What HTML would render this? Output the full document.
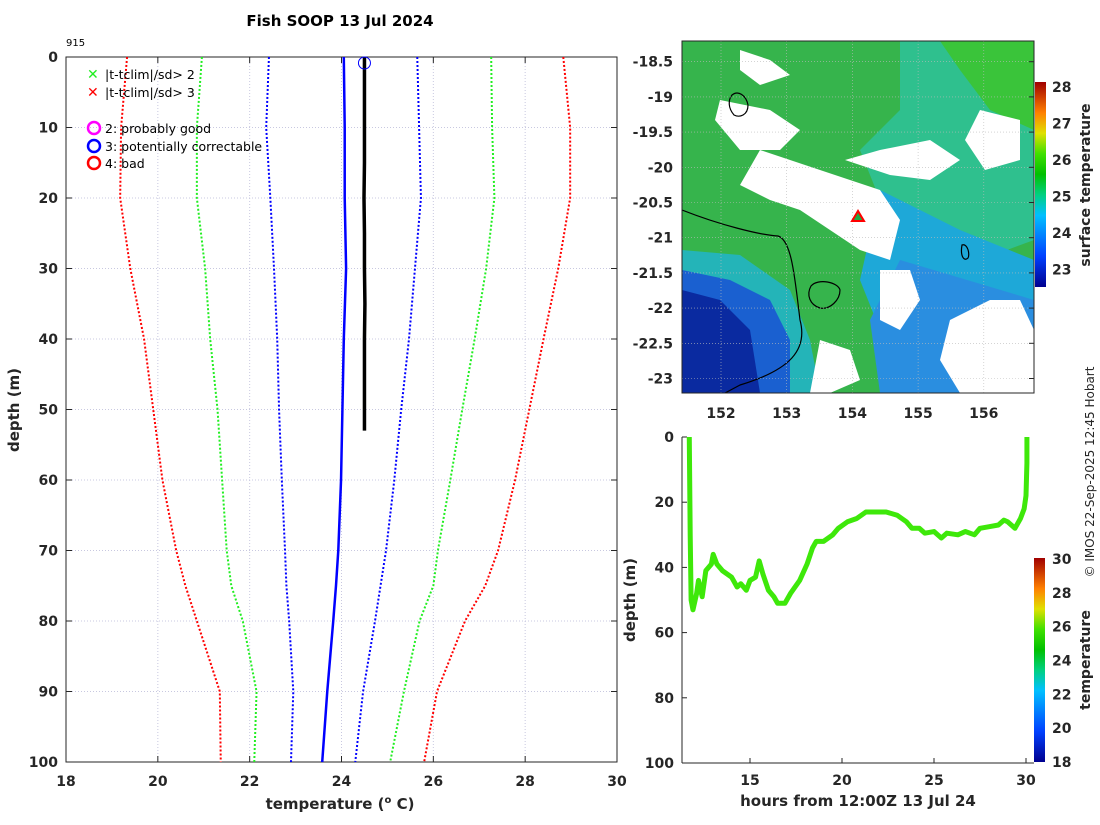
<!DOCTYPE html>
<html><head><meta charset="utf-8"><style>
body{margin:0;background:#fff;}
svg text{font-family:"DejaVu Sans","Liberation Sans",sans-serif;}
.tk{font-size:14px;font-weight:bold;fill:#262626;}
</style></head><body>
<svg id="s" width="1100" height="820" xmlns="http://www.w3.org/2000/svg">
<text x="340" y="26" text-anchor="middle" font-size="15" font-weight="bold" fill="#000">Fish SOOP 13 Jul 2024</text>
<text x="66" y="46" font-size="10" fill="#000">915</text>
<g id="main"></g>
<g id="map"></g>
<g id="track"></g>
<text transform="translate(1094,472) rotate(-90)" text-anchor="middle" font-size="12" fill="#262626">© IMOS 22-Sep-2025 12:45 Hobart</text>
</svg>
<script>
const NS="http://www.w3.org/2000/svg";
function mk(p,t,a,txt){const e=document.createElementNS(NS,t);for(const k in a)e.setAttribute(k,a[k]);if(txt!==undefined)e.textContent=txt;p.appendChild(e);return e;}

// ---- profile data ----
const depths=[0,10,20,30,40,50,60,70,75,80,90,100];
const red3Left=[19.33,19.2,19.18,19.4,19.7,19.9,20.1,20.4,20.6,20.85,21.35,21.37];
const green2Left=[20.96,20.85,20.85,21.03,21.14,21.3,21.4,21.5,21.6,21.85,22.15,22.1];
const blueLeft=[22.42,22.36,22.45,22.53,22.6,22.64,22.7,22.77,22.8,22.86,22.95,22.9];
const climMean=[24.05,24.07,24.07,24.1,24.05,24.02,23.99,23.93,23.88,23.82,23.69,23.58];
const blueRight=[25.65,25.69,25.73,25.6,25.47,25.3,25.15,24.97,24.85,24.73,24.47,24.3];
const green2Right=[27.26,27.28,27.33,27.15,26.9,26.63,26.37,26.1,26.0,25.7,25.36,25.06];
const red3Right=[28.83,28.98,28.98,28.72,28.4,28.09,27.78,27.41,27.13,26.69,26.08,25.8];
const obsDepth=[0,5,10,15,20,25,30,35,40,45,50,53];
const obsTemp=[24.5,24.5,24.5,24.5,24.49,24.5,24.5,24.51,24.5,24.5,24.5,24.5];
const xTicks=[18,20,22,24,26,28,30];
const yTicks=[0,10,20,30,40,50,60,70,80,90,100];

const L=66,R=617,T=57,B=762;
const X=t=>L+(t-18)/12*(R-L), Y=d=>T+d/100*(B-T);
const g=document.getElementById('main');
xTicks.forEach(t=>{const l=mk(g,'line',{x1:X(t),x2:X(t),y1:T,y2:B,stroke:'#c8c8e0','stroke-dasharray':'1,2','stroke-width':1});

const tx=mk(g,'text',{x:X(t),y:B+24,'text-anchor':'middle',class:'tk'},t);

mk(g,'line',{x1:X(t),x2:X(t),y1:T,y2:T+6,stroke:'#262626'});mk(g,'line',{x1:X(t),x2:X(t),y1:B,y2:B-6,stroke:'#262626'});});
yTicks.forEach(d=>{const l=mk(g,'line',{x1:L,x2:R,y1:Y(d),y2:Y(d),stroke:'#c8c8e0','stroke-dasharray':'1,2','stroke-width':1});

const tx=mk(g,'text',{x:L-8,y:Y(d)+5,'text-anchor':'end',class:'tk'},d);

mk(g,'line',{x1:L,x2:L+6,y1:Y(d),y2:Y(d),stroke:'#262626'});mk(g,'line',{x1:R,x2:R-6,y1:Y(d),y2:Y(d),stroke:'#262626'});});
const box=mk(g,'rect',{x:L,y:T,width:R-L,height:B-T,fill:'none',stroke:'#262626','stroke-width':1});

function line(arr,col,w,dash,name,ds){const pts=arr.map((t,i)=>X(t)+','+Y((ds||depths)[i])).join(' ');
const p=mk(g,'polyline',{points:pts,fill:'none',stroke:col,'stroke-width':w});if(dash)p.setAttribute('stroke-dasharray',dash);
}
line(red3Left,'#f00',2,'2,2','clim-3sd-left');line(red3Right,'#f00',2,'2,2','clim-3sd-right');
line(green2Left,'#2e2',2,'2,2','clim-2sd-left');line(green2Right,'#2e2',2,'2,2','clim-2sd-right');
line(blueLeft,'#00f',2,'2,2','clim-1sd-left');line(blueRight,'#00f',2,'2,2','clim-1sd-right');
line(climMean,'#00f',2.5,null,'clim-mean');
line(obsTemp,'#000',3.5,null,'observed-profile',obsDepth);
const c=mk(g,'circle',{cx:X(24.5),cy:Y(0)+6,r:6,fill:'none',stroke:'#00f','stroke-width':1});

const xl=mk(g,'text',{x:340,y:809,'text-anchor':'middle','font-size':15,'font-weight':'bold',fill:'#262626'});
xl.innerHTML='temperature (<tspan font-size="10" dy="-6">o</tspan><tspan dy="6"> C)</tspan>';

const yl=mk(g,'text',{transform:'translate(19,410) rotate(-90)','text-anchor':'middle','font-size':15,'font-weight':'bold',fill:'#262626'},'depth (m)');

// legend
const leg=[['x','#2e2','|t-tclim|/sd> 2',74],['x','#f00','|t-tclim|/sd> 3',92],['o','#f0f','2: probably good',128],['o','#00f','3: potentially correctable',146],['o','#f00','4: bad',163]];
leg.forEach(e=>{const gg=mk(g,'g',{});
if(e[0]=='x'){mk(gg,'text',{x:87,y:e[3]+5,'font-size':14,'font-weight':'bold',fill:e[1]},'✕');}
else mk(gg,'circle',{cx:94,cy:e[3],r:6,fill:'none',stroke:e[1],'stroke-width':2.5});
mk(gg,'text',{x:105,y:e[3]+5,'font-size':12.5,fill:'#000'},e[2]);});

// ---- map ----
const m=document.getElementById('map');
const MX0=682,MX1=1034,MY0=41,MY1=393;
const lonTicks=[152,153,154,155,156];const latTicks=[-18.5,-19,-19.5,-20,-20.5,-21,-21.5,-22,-22.5,-23];
const LX=lon=>721+(lon-152)*65.7, LY=lat=>61.7+(-18.5-lat)*70.4;
const cp=mk(m,'clipPath',{id:'mc'});mk(cp,'rect',{x:MX0,y:MY0,width:MX1-MX0,height:MY1-MY0});
const mg=mk(m,'g',{'clip-path':'url(#mc)'});
mk(mg,'rect',{x:MX0,y:MY0,width:352,height:352,fill:'#36b44c'});
const shapes=[
['#2fc08e','900,41 1034,41 1034,240 980,260 930,230 880,200 860,150 900,110'],
['#3ac43a','940,41 1034,41 1034,130 990,110 960,70'],
['#1ea8d8','880,190 960,230 1034,260 1034,393 900,393 880,330 860,280'],
['#2a8ee0','900,260 1034,300 1034,393 880,393 870,320'],
['#24b4b8','682,250 740,255 790,290 810,340 820,393 682,393'],
['#1a60d0','682,270 730,280 770,300 790,340 790,393 682,393'],
['#0a2aa0','682,290 720,300 750,330 760,393 682,393'],
['#fff','720,100 770,110 800,130 780,150 740,150 715,120'],
['#fff','760,150 820,170 880,190 900,220 890,260 860,250 830,230 800,210 770,200 740,185'],
['#fff','845,160 880,150 930,140 960,160 930,180 890,175'],
['#fff','980,110 1020,120 1020,160 985,170 965,140'],
['#fff','950,320 990,300 1020,300 1034,330 1034,393 960,393 940,360'],
['#fff','880,270 910,270 920,300 900,330 880,320'],
['#fff','740,50 770,60 790,75 760,85 740,70'],
['#fff','820,340 850,350 860,380 830,393 810,393']];
shapes.forEach(s=>{const p=mk(mg,'polygon',{points:s[1],fill:s[0]});});
mk(mg,'path',{d:'M682,210 C720,225 760,235 778,236 C792,240 795,280 800,320 C808,350 790,370 740,385 L725,393',fill:'none',stroke:'#000','stroke-width':1.2});
mk(mg,'path',{d:'M811,286 C818,278 838,282 840,290 C840,300 830,310 820,308 C810,305 806,295 811,286Z',fill:'none',stroke:'#000','stroke-width':1.2});
mk(mg,'path',{d:'M732,95 C738,90 746,95 748,105 C748,115 740,118 734,115 C728,108 728,100 732,95Z',fill:'none',stroke:'#000','stroke-width':1.2});
mk(mg,'path',{d:'M962,245 C968,243 970,255 968,258 C964,262 960,256 962,245Z',fill:'none',stroke:'#000','stroke-width':1.2});
lonTicks.forEach(v=>{mk(m,'line',{x1:LX(v),x2:LX(v),y1:MY0,y2:MY1,stroke:'#bbb','stroke-dasharray':'1,2','stroke-width':0.6});
const t=mk(m,'text',{x:LX(v),y:418,'text-anchor':'middle',class:'tk'},v);});
latTicks.forEach(v=>{mk(m,'line',{x1:MX0,x2:MX1,y1:LY(v),y2:LY(v),stroke:'#bbb','stroke-dasharray':'1,2','stroke-width':0.6});
mk(m,'line',{x1:MX1,x2:MX1-5,y1:LY(v),y2:LY(v),stroke:'#262626'});
const t=mk(m,'text',{x:673,y:LY(v)+5,'text-anchor':'end',class:'tk'},v);});
mk(m,'rect',{x:MX0,y:MY0,width:352,height:352,fill:'none',stroke:'#262626'});
const tri=mk(m,'polygon',{points:'852,221 858,211 864,221',fill:'#2a4',stroke:'#f00','stroke-width':2});

function jet(id){const gr=mk(m,'linearGradient',{id:id,x1:0,y1:1,x2:0,y2:0});
[['0','#00008f'],['0.15','#0040ff'],['0.35','#00c0ff'],['0.45','#00d080'],['0.55','#00c000'],['0.65','#40e000'],['0.75','#e0e000'],['0.85','#ff8000'],['1','#a00000']].forEach(s=>mk(gr,'stop',{offset:s[0],'stop-color':s[1]}));}
jet('cb1');
const cb=mk(m,'rect',{x:1035,y:82,width:11,height:205,fill:'url(#cb1)'});
[28,27,26,25,24,23].forEach(v=>{const y=87+(28-v)*36.5;mk(m,'text',{x:1052,y:y+5,class:'tk'},v);});
mk(m,'text',{transform:'translate(1090,185) rotate(-90)','text-anchor':'middle','font-size':14,'font-weight':'bold',fill:'#262626'},'surface temperature');

// ---- track plot ----
const hours=[11.7,11.75,11.8,11.9,12.1,12.2,12.4,12.6,12.9,13.0,13.2,13.5,14,14.3,14.5,14.8,15,15.3,15.5,15.7,16,16.3,16.5,16.9,17.2,17.7,18.1,18.4,18.6,19.0,19.5,19.8,20.3,20.8,21.3,21.7,22.4,23.0,23.5,23.8,24.2,24.5,25.0,25.4,25.7,26.3,26.7,27.2,27.5,28,28.5,28.8,29.0,29.4,29.7,29.9,30.0,30.05,30.05];
const trackDepth=[0,30,50,53,48,44,49,41,39,36,39,41,43,46,45,47,44,43,38,42,47,49,51,51,48,44,39,34,32,32,30,28,26,25,23,23,23,24,26,28,28,29.5,29,31,29.5,30,29,30,28,27.5,27,25.5,26,28,25,22,18,8,0];
const hTicks=[15,20,25,30];const dTicks=[0,20,40,60,80,100];
const tr=document.getElementById('track');
const TL=682,TT=437,TB=763,HX=h=>750+(h-15)*18.4,DY=d=>TT+d/100*(TB-TT);
mk(tr,'line',{x1:TL,x2:TL,y1:TT,y2:TB,stroke:'#262626'});mk(tr,'line',{x1:TL,x2:1034,y1:TB,y2:TB,stroke:'#262626'});
hTicks.forEach(h=>{mk(tr,'line',{x1:HX(h),x2:HX(h),y1:TB,y2:TB-5,stroke:'#262626'});
const t=mk(tr,'text',{x:HX(h),y:TB+22,'text-anchor':'middle',class:'tk'},h);});
dTicks.forEach(d=>{mk(tr,'line',{x1:TL,x2:TL+5,y1:DY(d),y2:DY(d),stroke:'#262626'});
const t=mk(tr,'text',{x:TL-8,y:DY(d)+5,'text-anchor':'end',class:'tk'},d);});
const tp=mk(tr,'polyline',{points:hours.map((h,i)=>HX(h)+','+DY(trackDepth[i])).join(' '),fill:'none',stroke:'#3ee80a','stroke-width':5,'stroke-linejoin':'round'});

mk(tr,'text',{x:858,y:806,'text-anchor':'middle','font-size':15,'font-weight':'bold',fill:'#262626'},'hours from 12:00Z 13 Jul 24');
mk(tr,'text',{transform:'translate(635,600) rotate(-90)','text-anchor':'middle','font-size':15,'font-weight':'bold',fill:'#262626'},'depth (m)');
jet('cb2');
const cb2=mk(tr,'rect',{x:1034,y:558,width:11,height:204,fill:'url(#cb2)'});
[30,28,26,24,22,20,18].forEach(v=>{const y=559+(30-v)/12*203;mk(tr,'text',{x:1052,y:y+5,class:'tk'},v);});
mk(tr,'text',{transform:'translate(1090,660) rotate(-90)','text-anchor':'middle','font-size':14,'font-weight':'bold',fill:'#262626'},'temperature');
</script>
</body></html>
